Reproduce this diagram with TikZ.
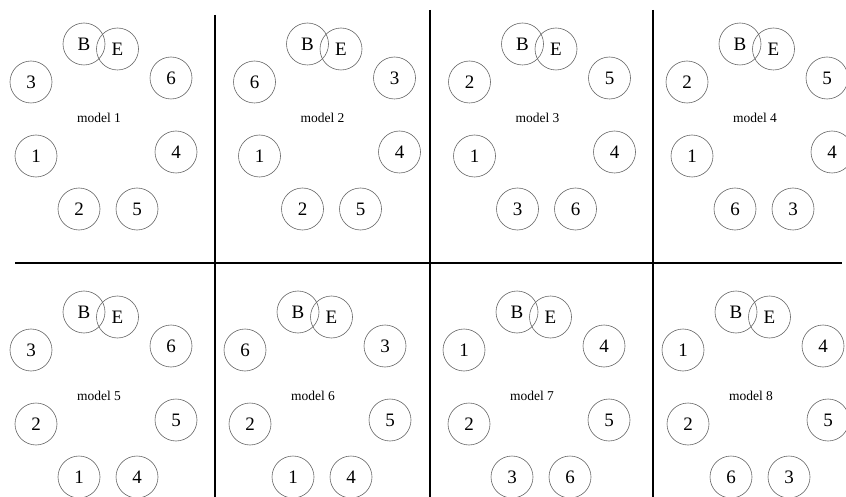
\documentclass[tikz,border=0pt]{standalone}
\usepackage{fontspec}
\setmainfont{Liberation Serif}
\begin{document}
\begin{tikzpicture}[x=1pt,y=-1pt,
  ball/.style={circle, draw=black!60, line width=0.6pt, minimum size=42pt, inner sep=0pt, font=\fontsize{19}{19}\selectfont},
  lbl/.style={inner sep=0pt, font=\fontsize{13.5}{13.5}\selectfont},
  divider/.style={line width=1.6pt, black}]
\useasboundingbox (0,0) rectangle (846,497);
\foreach \n/\ox/\oy/\my/\a/\b/\c/\d/\e/\f in {
  1/0/0/118/3/6/1/4/2/5,
  2/223.5/0/118/6/3/1/4/2/5,
  3/438.5/0/118/2/5/1/4/3/6,
  4/656/0/118/2/5/1/4/6/3,
  5/0/268/128/3/6/2/5/1/4,
  6/214/268/128/6/3/2/5/1/4,
  7/433/268/128/1/4/2/5/3/6,
  8/652/268/128/1/4/2/5/6/3}
{
  \begin{scope}[shift={(\ox,\oy)}]
    \node[ball] (B\n) at (84,44) {B};
    \node[ball] (E\n) at (117.5,49) {E};
    \node[ball] (TL\n) at (31,82) {\a};
    \node[ball] (TR\n) at (171,78) {\b};
    \node[ball] (ML\n) at (36,156) {\c};
    \node[ball] (MR\n) at (176,152) {\d};
    \node[ball] (BL\n) at (79,209) {\e};
    \node[ball] (BR\n) at (137,209) {\f};
    \node[lbl] (M\n) at (99,\my) {model \n};
  \end{scope}
}
\draw[divider] (215,15) -- (215,497);
\draw[divider] (430,10) -- (430,497);
\draw[divider] (653,10) -- (653,497);
\draw[divider] (15,263) -- (842,263);
\end{tikzpicture}
\end{document}
